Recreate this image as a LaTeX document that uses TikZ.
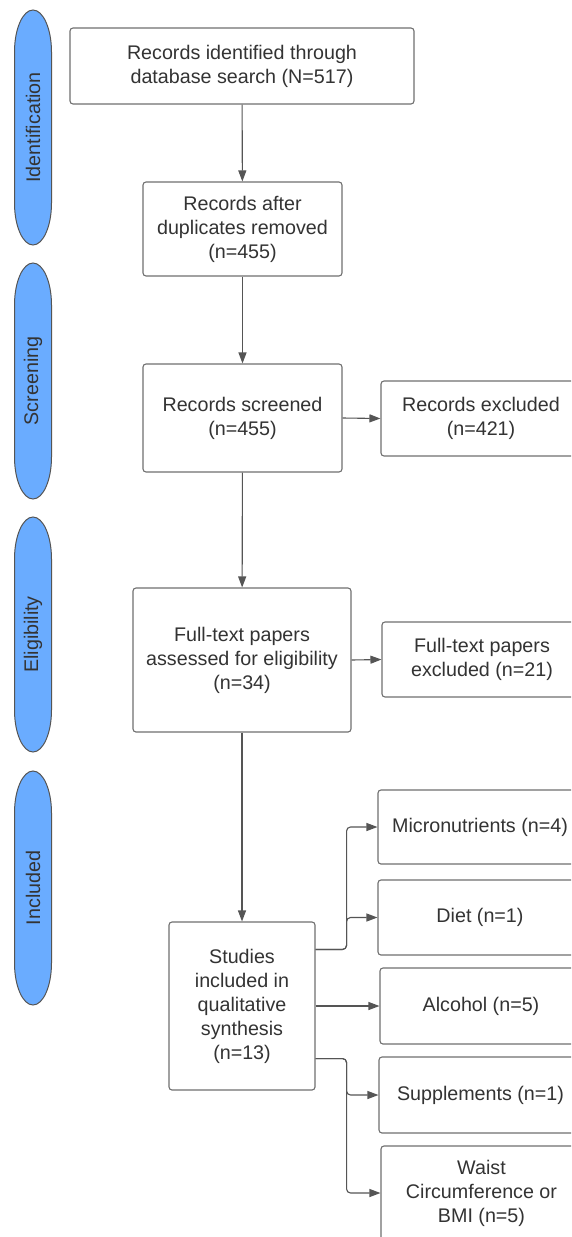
\documentclass[tikz,border=0pt]{standalone}
\usepackage{fontspec}
\setmainfont{Liberation Sans}
\usetikzlibrary{arrows.meta,calc}
\definecolor{txt}{HTML}{333333}
\definecolor{edge}{HTML}{707070}
\definecolor{linec}{HTML}{555555}
\definecolor{phase}{RGB}{106,172,255}
\newcommand{\phaseshape}[3]{%
  \draw[draw=linec, line width=1pt, fill=phase]
    ({#1-18.5},{#2+42}) .. controls ({#1-18.5},{#2+18.8}) and ({#1-10.2},{#2}) .. ({#1},{#2})
    .. controls ({#1+10.2},{#2}) and ({#1+18.5},{#2+18.8}) .. ({#1+18.5},{#2+42})
    -- ({#1+18.5},{#3-42})
    .. controls ({#1+18.5},{#3-18.8}) and ({#1+10.2},{#3}) .. ({#1},{#3})
    .. controls ({#1-10.2},{#3}) and ({#1-18.5},{#3-18.8}) .. ({#1-18.5},{#3-42})
    -- cycle;}
\begin{document}
\begin{tikzpicture}[x=1pt,y=-1pt,
 box/.style={draw=edge, line width=1.1pt, rounded corners=3pt, align=center, inner sep=0pt,
   font=\fontsize{19.7}{24}\selectfont, text=txt, fill=white},
 phasetext/.style={rotate=90, inner sep=0pt, font=\fontsize{19.7}{24}\selectfont, text=txt},
 arr/.style={draw=linec, line width=1.1pt, -{Triangle[length=11pt,width=8pt]}, rounded corners=4pt},
]
\useasboundingbox (0,0) rectangle (571,1237);
\clip (0,0) rectangle (571,1237);
\fill[white] (0,0) rectangle (571,1237);

% phases
\phaseshape{33}{10}{245}
\phaseshape{33}{263}{499}
\phaseshape{33}{517}{752}
\phaseshape{33}{771}{1005}
\node[phasetext] (p1) at (33,127.5) {Identification};
\node[phasetext] (p2) at (33,381) {Screening};
\node[phasetext] (p3) at (33,634.5) {Eligibility};
\node[phasetext] (p4) at (33,888) {Included};

% main column
\node[box, minimum width=344, minimum height=76] (b1) at (242,66) {Records identified through\\database search (N=517)};
\node[box, minimum width=199, minimum height=94] (b2) at (242.5,229) {Records after\\duplicates removed\\(n=455)};
\node[box, minimum width=199, minimum height=108] (b3) at (242.5,418) {Records screened\\(n=455)};
\node[box, minimum width=200, minimum height=75] (b4) at (481,418.5) {Records excluded\\(n=421)};
\node[box, minimum width=218, minimum height=144] (b5) at (242,660) {Full-text papers\\assessed for eligibility\\(n=34)};
\node[box, minimum width=200, minimum height=75] (b6) at (482,659.5) {Full-text papers\\excluded (n=21)};
\node[box, minimum width=146, minimum height=168] (b7) at (242,1006) {Studies\\included in\\qualitative\\synthesis\\(n=13)};

% outcome boxes
\node[box, minimum width=204, minimum height=74] (r1) at (480,827) {Micronutrients (n=4)};
\node[box, minimum width=204, minimum height=75] (r2) at (480,917.5) {Diet (n=1)};
\node[box, minimum width=202, minimum height=76] (r3) at (481,1006) {Alcohol (n=5)};
\node[box, minimum width=203, minimum height=76] (r4) at (480.5,1095) {Supplements (n=1)};
\node[box, minimum width=201, minimum height=94] (r5) at (481.5,1193) {Waist\\Circumference or\\BMI (n=5)};

% connectors
\draw[arr] (b1) -- (b2);
\draw[arr] (b2) -- (b3);
\draw[arr] (b3.east) -- (b4.west);
\draw[arr] (b3) -- (b5);
\draw[arr] (b5.east) -- (b6.west);
\draw[arr] (b5) -- (b7);

\coordinate (s1) at ($(b7.north east)+(0,28)$);
\coordinate (s2) at ($(b7.south east)+(0,-32)$);
\draw[arr] (s1) -- ++(31,0) |- (r1.west);
\draw[arr] (s1) -- ++(31,0) |- (r2.west);
\draw[arr] (b7.east) -- (r3.west);
\draw[arr] (s2) -- ++(31,0) |- (r4.west);
\draw[arr] (s2) -- ++(31,0) |- (r5.west);
\end{tikzpicture}
\end{document}
